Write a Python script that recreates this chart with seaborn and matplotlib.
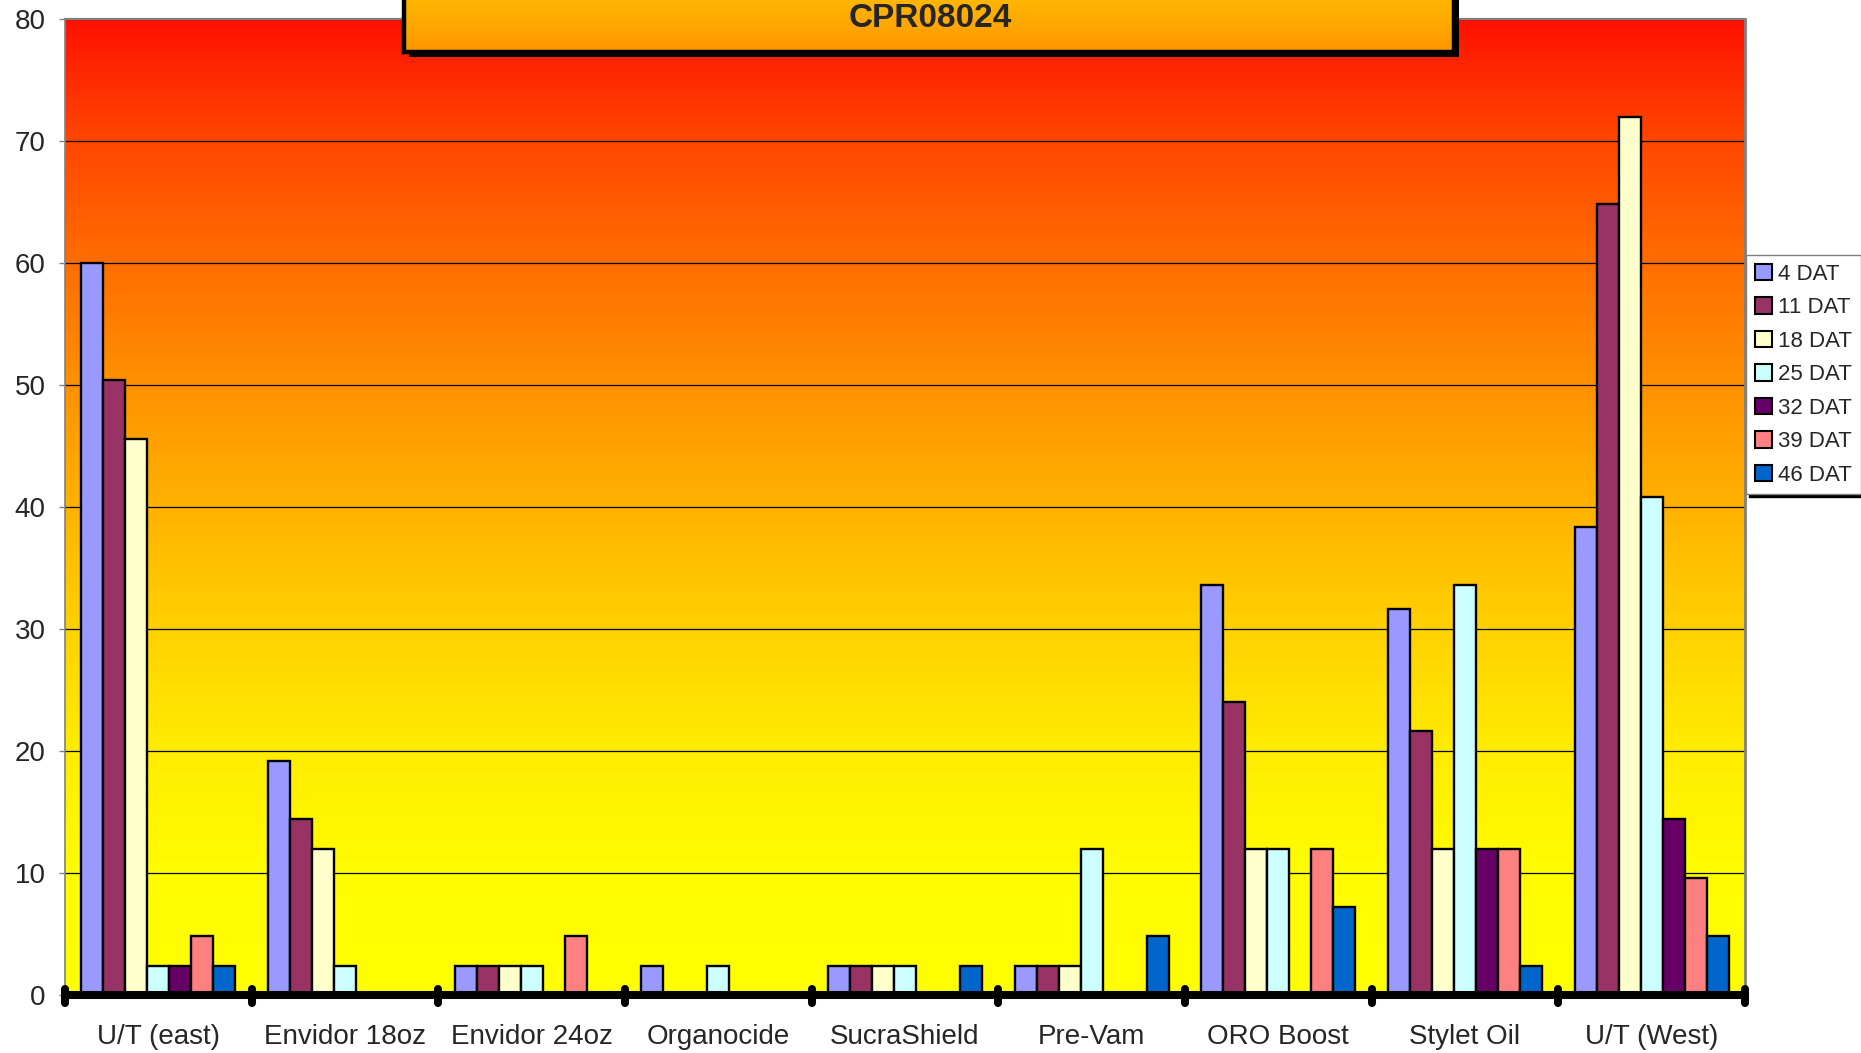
import numpy as np
import pandas as pd
import matplotlib
matplotlib.use("Agg")
import matplotlib.pyplot as plt
import matplotlib.transforms as mtransforms
from matplotlib.colors import LinearSegmentedColormap
from matplotlib.patches import Patch, Rectangle
import seaborn as sns

# Data
treatments = ["U/T (east)", "Envidor 18oz", "Envidor 24oz", "Organocide", "SucraShield",
              "Pre-Vam", "ORO Boost", "Stylet Oil", "U/T (West)"]
dat_labels = ["4 DAT", "11 DAT", "18 DAT", "25 DAT", "32 DAT", "39 DAT", "46 DAT"]

dat4 = [60.0, 19.2, 2.4, 2.4, 2.4, 2.4, 33.6, 31.6, 38.4]
dat11 = [50.4, 14.4, 2.4, 0.0, 2.4, 2.4, 24.0, 21.6, 64.8]
dat18 = [45.6, 12.0, 2.4, 0.0, 2.4, 2.4, 12.0, 12.0, 72.0]
dat25 = [2.4, 2.4, 2.4, 2.4, 2.4, 12.0, 12.0, 33.6, 40.8]
dat32 = [2.4, 0.0, 0.0, 0.0, 0.0, 0.0, 0.0, 12.0, 14.4]
dat39 = [4.8, 0.0, 4.8, 0.0, 0.0, 0.0, 12.0, 12.0, 9.6]
dat46 = [2.4, 0.0, 0.0, 0.0, 2.4, 4.8, 7.2, 2.4, 4.8]

colors = ["#9999FF", "#993366", "#FFFFCC", "#CCFFFF", "#660066", "#FF8080", "#0066CC"]

series = [dat4, dat11, dat18, dat25, dat32, dat39, dat46]
df = pd.DataFrame({
    "Treatment": np.tile(treatments, len(dat_labels)),
    "DAT": np.repeat(dat_labels, len(treatments)),
    "Value": np.concatenate(series),
})

sns.set_style("white")
plt.rcParams["font.family"] = ["Liberation Sans", "DejaVu Sans"]

fig = plt.figure(figsize=(18.61, 10.53), dpi=100)
ax = fig.add_axes([65 / 1861, 1 - 995 / 1053, 1680 / 1861, 976 / 1053])

sns.barplot(data=df, x="Treatment", y="Value", hue="DAT", order=treatments,
            hue_order=dat_labels, palette=colors, saturation=1, width=0.825,
            edgecolor="black", linewidth=1.7, errorbar=None, legend=False, ax=ax)

# fire gradient behind the plot
fire = LinearSegmentedColormap.from_list("fire", [
    (0.0, (1.0, 1.0, 0.0)),
    (0.125, (1.0, 0.99, 0.0)),
    (0.25, (1.0, 0.925, 0.0)),
    (0.375, (1.0, 0.82, 0.0)),
    (0.5, (1.0, 0.70, 0.0)),
    (0.625, (1.0, 0.57, 0.0)),
    (0.75, (1.0, 0.43, 0.0)),
    (0.875, (1.0, 0.28, 0.0)),
    (1.0, (1.0, 0.07, 0.0)),
])
ax.imshow(np.linspace(0, 1, 256).reshape(-1, 1), cmap=fire, aspect="auto",
          extent=(-0.5, 8.5, 0, 80), origin="lower", zorder=0)

ax.set_xlim(-0.5, 8.5)
ax.set_ylim(0, 80)
ax.set_yticks(range(0, 81, 10))
ax.set_axisbelow(True)
ax.yaxis.grid(True, color="black", linewidth=0.9)
ax.xaxis.grid(False)
ax.set_xlabel("")
ax.set_ylabel("")

for side, col, lw in [("left", "#808080", 1.2), ("top", "#808080", 1.6),
                      ("right", "#808080", 2.0), ("bottom", "black", 5.8)]:
    ax.spines[side].set_visible(True)
    ax.spines[side].set_color(col)
    ax.spines[side].set_linewidth(lw)
ax.spines["bottom"].set_capstyle("round")

ax.tick_params(axis="y", left=True, length=4, width=1, color="#808080",
               labelsize=20, pad=10)
ax.tick_params(axis="x", length=0, labelsize=20, pad=21)

# thick category separators on the x axis
trans = mtransforms.blended_transform_factory(ax.transData, ax.transAxes)
seps = ax.vlines(np.arange(-0.5, len(treatments), 1), -0.008, 0.006, transform=trans,
                 colors="black", linewidth=5.8, clip_on=False, zorder=5)
seps.set_capstyle("round")

# legend
handles = [Patch(facecolor=c, edgecolor="black", linewidth=1.5, label=l)
           for c, l in zip(colors, dat_labels)]
fig.legend(handles=handles, loc="upper left",
           bbox_to_anchor=(1746 / 1861, 1 - 255 / 1053), bbox_transform=fig.transFigure,
           fontsize=16, frameon=True, fancybox=False, framealpha=1,
           edgecolor="#808080", facecolor="white",
           shadow={"color": "black", "alpha": 1},
           handlelength=0.75, handleheight=0.75, handletextpad=0.3,
           labelspacing=0.56, borderpad=0.4, borderaxespad=0)

# title box with gradient and shadow
box = [404 / 1861, 0.951, 1050 / 1861, 0.06]
fig.patches.append(Rectangle((box[0] + 5 / 1861, box[1] - 5 / 1053), box[2], box[3],
                             transform=fig.transFigure, facecolor="black",
                             edgecolor="none", zorder=1))
tax = fig.add_axes(box, zorder=2)
title_cmap = LinearSegmentedColormap.from_list("tbox", [(1.0, 0.59, 0.0), (1.0, 0.74, 0.0)])
tax.imshow(np.linspace(0, 1, 64).reshape(-1, 1), cmap=title_cmap, aspect="auto",
           extent=(0, 1, 0, 1), origin="lower")
tax.set_xticks([])
tax.set_yticks([])
for s in tax.spines.values():
    s.set_visible(True)
    s.set_color("black")
    s.set_linewidth(3.2)
fig.text(0.5, 0.982, "CPR08024", ha="center", va="center", fontsize=24,
         fontweight="bold", zorder=5)

fig.savefig("out.png", dpi=100)
